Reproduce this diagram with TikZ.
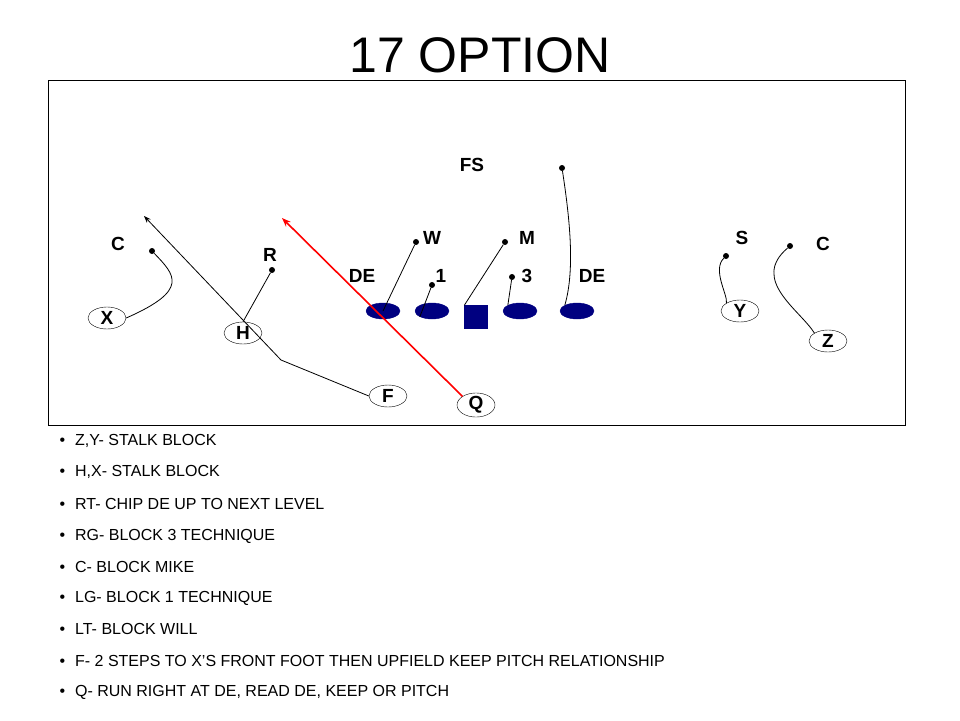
\documentclass[tikz,border=0pt]{standalone}
\usepackage{fontspec}
\setmainfont{Liberation Sans}
\usetikzlibrary{shapes.geometric, arrows.meta, positioning}
\definecolor{linenavy}{HTML}{000080}
\definecolor{qred}{HTML}{FF0000}

\begin{document}
\begin{tikzpicture}[x=1pt, y=-1pt,
    player/.style={ellipse, draw=black, fill=white, minimum width=38pt, minimum height=22pt, inner sep=0pt, font=\fontsize{19}{19}\selectfont\bfseries},
    lineman/.style={ellipse, fill=linenavy, draw=linenavy, minimum width=34pt, minimum height=16pt, inner sep=0pt},
    snapper/.style={rectangle, fill=linenavy, draw=linenavy, minimum size=23pt, inner sep=0pt},
    defdot/.style={circle, fill=black, inner sep=0pt, minimum size=6pt},
    deflabel/.style={font=\fontsize{19}{19}\selectfont\bfseries},
    route/.style={thick},
    bullet/.style={anchor=west, font=\fontsize{16}{16}\selectfont}
]
\useasboundingbox (0,0) rectangle (960,720);

% title and field
\node[font=\fontsize{50}{50}\selectfont] (title) at (480,55) {17 OPTION};
\draw (48,80) rectangle (905,425);

% defense
\node[deflabel] (fslab) at (472,165) {FS};
\node[deflabel] (wlab) at (432,238) {W};
\node[deflabel] (mlab) at (527,238) {M};
\node[deflabel] (slab) at (742,238) {S};
\node[deflabel] (crlab) at (823,244) {C};
\node[deflabel] (cllab) at (118,244) {C};
\node[deflabel] (rlab) at (270,255) {R};
\node[deflabel] (delab) at (362,276) {DE};
\node[deflabel] (onelab) at (441,276) {1};
\node[deflabel] (threelab) at (527,276) {3};
\node[deflabel] (derlab) at (592,276) {DE};

\node[defdot] (fs) at (562,168) {};
\node[defdot] (w) at (416,242) {};
\node[defdot] (m) at (505,242) {};
\node[defdot] (s) at (726,256) {};
\node[defdot] (cr) at (790,246) {};
\node[defdot] (cl) at (152,251) {};
\node[defdot] (r) at (272,270) {};
\node[defdot] (one) at (432,285) {};
\node[defdot] (three) at (512,277) {};

% offensive line
\node[lineman] (lt) at (383,311) {};
\node[lineman] (lg) at (432,311) {};
\node[snapper] (c) at (476,317) {};
\node[lineman] (rg) at (520,311) {};
\node[lineman] (rt) at (577,311) {};

% backs and receivers
\node[player] (x) at (107,318) {X};
\node[player] (h) at (243,333) {H};
\node[player] (f) at (388,396) {F};
\node[player] (q) at (476,405) {Q};
\node[player] (y) at (740,311) {Y};
\node[player] (z) at (828,341) {Z};
\coordinate (fturn) at (281,360);
\coordinate (fend) at (144,216);
\coordinate (qend) at (282,218);

% routes
\draw[route] (x.east) .. controls (190,290) and (175,275) .. (cl);
\draw[route] (z.north west) .. controls (800,310) and (750,280) .. (cr);
\draw[route] (y.north west) .. controls (728,295) and (712,270) .. (s);
\draw[route] (h.north) -- (r);
\draw[route, -{Stealth[length=7pt]}] (f.west) -- (fturn) -- (fend);
\draw[route] (lt.center) -- (w);
\draw[route] (lg.south west) -- (one);
\draw[route] (c.north west) -- (m);
\draw[route] (rg.north west) -- (three);
\draw[route] (rt.north west) .. controls (575,270) and (570,220) .. (fs);
\draw[qred, line width=1.6pt, -{Stealth[length=9pt]}] (q.north west) -- (qend);

% coaching points
\foreach \y/\txt in {441/{Z,Y- STALK BLOCK}, 472/{H,X- STALK BLOCK}, 504/{RT- CHIP DE UP TO NEXT LEVEL}, 536/{RG- BLOCK 3 TECHNIQUE}, 567/{C- BLOCK MIKE}, 598/{LG- BLOCK 1 TECHNIQUE}, 629/{LT- BLOCK WILL}, 661/{F- 2 STEPS TO X’S FRONT FOOT THEN UPFIELD KEEP PITCH RELATIONSHIP}, 692/{Q- RUN RIGHT AT DE, READ DE, KEEP OR PITCH}}
  \node[bullet] at (56,\y) {•\hspace{10pt}\txt};

\end{tikzpicture}
\end{document}
